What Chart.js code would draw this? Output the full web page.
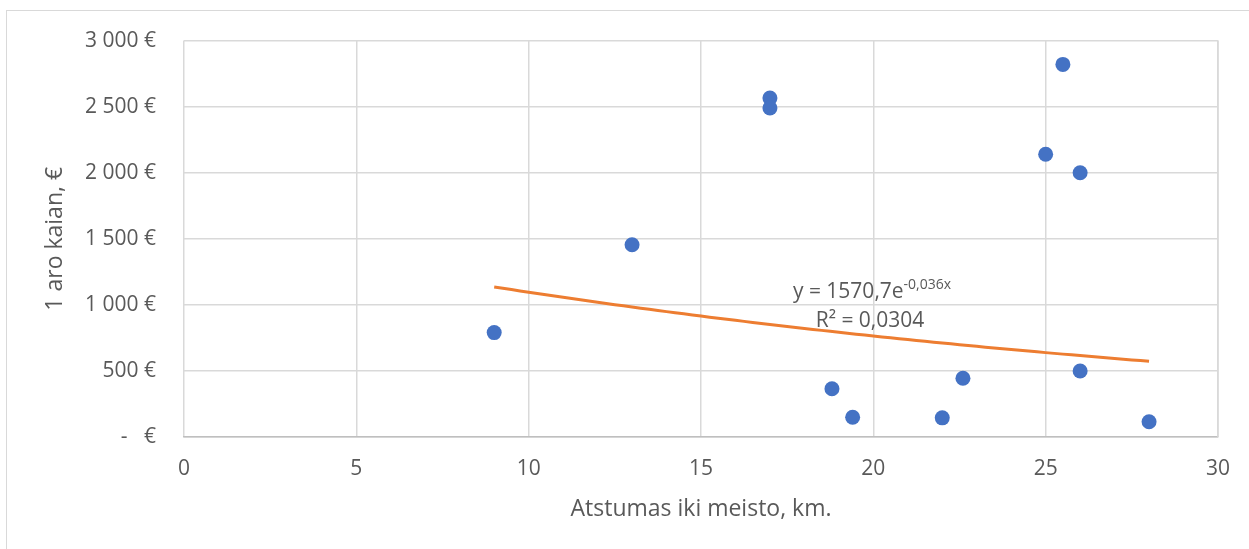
<!DOCTYPE html>
<html>
<head>
<meta charset="utf-8">
<script src="https://cdn.jsdelivr.net/npm/chart.js@4/dist/chart.umd.min.js"></script>
<style>
  html, body { margin: 0; padding: 0; background: #ffffff; overflow: hidden; }
  #frame { position: absolute; left: 6px; top: 10px; width: 1300px; height: 600px;
           border: 1px solid #d9d9d9; box-sizing: border-box; }
  #wrap { position: absolute; left: 0; top: 0; width: 1249px; height: 549px; }
</style>
</head>
<body>
<div id="frame"></div>
<div id="wrap"><canvas id="chart" width="1249" height="549"></canvas></div>
<script>
// Distance to town (km) and price of one are of land (€)
const distanceKm = [9, 13, 17, 17, 18.8, 19.4, 22, 22.6, 25, 25.5, 26, 26, 28];
const pricePerAre = [790, 1455, 2565, 2490, 365, 150, 145, 445, 2140, 2820, 2000, 500, 115];

// Axis ticks
const xTicks = [0, 5, 10, 15, 20, 25, 30];
const yTickValues = [0, 500, 1000, 1500, 2000, 2500, 3000];
const yTickLabels = ['-   €', '500 €', '1 000 €', '1 500 €', '2 000 €', '2 500 €', '3 000 €'];

// Exponential trendline y = a·e^(b·x) and its fit statistic
const trendA = 1570.7;
const trendB = -0.036;
const trendR2 = '0,0304';
const trendFrom = 9;
const trendTo = 28;

const trendPoints = [];
for (let i = 0; i <= 76; i++) {
  const x = trendFrom + (trendTo - trendFrom) * i / 76;
  trendPoints.push({ x: x, y: trendA * Math.exp(trendB * x) });
}

const scatterPoints = distanceKm.map((x, i) => ({ x: x, y: pricePerAre[i] }));

const FONT = '"Open Sans", "Liberation Sans", sans-serif';
const TEXT = '#595959';

const equationLabel = {
  id: 'equationLabel',
  afterDatasetsDraw(chart) {
    const ctx = chart.ctx;
    ctx.save();
    ctx.fillStyle = TEXT;
    ctx.textBaseline = 'alphabetic';
    const main = 'y = 1570,7e';
    const sup = '-0,036x';
    ctx.font = '21px ' + FONT;
    const wMain = ctx.measureText(main).width;
    ctx.font = '14px ' + FONT;
    const wSup = ctx.measureText(sup).width;
    const cx = 872;
    const x0 = cx - (wMain + wSup) / 2;
    ctx.font = '21px ' + FONT;
    ctx.textAlign = 'left';
    ctx.fillText(main, x0, 298);
    ctx.font = '14px ' + FONT;
    ctx.fillText(sup, x0 + wMain, 289);
    ctx.font = '21px ' + FONT;
    ctx.textAlign = 'center';
    ctx.fillText('R² = ' + trendR2, 870, 327);
    ctx.restore();
  }
};

new Chart(document.getElementById('chart'), {
  type: 'scatter',
  data: {
    datasets: [
      {
        label: 'Trendline',
        data: trendPoints,
        showLine: true,
        borderColor: '#ED7D31',
        borderWidth: 3,
        pointRadius: 0,
        tension: 0,
        order: 1
      },
      {
        label: '1 aro kaina',
        data: scatterPoints,
        backgroundColor: '#4472C4',
        borderWidth: 0,
        pointRadius: 7.5,
        order: 0
      }
    ]
  },
  options: {
    responsive: false,
    animation: false,
    devicePixelRatio: 1,
    layout: { padding: { top: 40, right: 31, left: 0, bottom: 0 } },
    plugins: { legend: { display: false }, tooltip: { enabled: false } },
    scales: {
      x: {
        type: 'linear',
        min: 0, max: 30,
        afterBuildTicks(scale) { scale.ticks = xTicks.map(v => ({ value: v })); },
        afterFit(scale) { scale.height = 112; },
        grid: { color: '#d9d9d9', lineWidth: 1.5, drawTicks: false },
        border: { display: true, color: '#bfbfbf', width: 1.5 },
        ticks: { color: TEXT, font: { family: FONT, size: 21 }, padding: 19, maxRotation: 0 },
        title: { display: true, text: 'Atstumas iki meisto, km.', color: TEXT,
                 font: { family: FONT, size: 23 }, padding: { top: 0, bottom: 26 } }
      },
      y: {
        type: 'linear',
        min: 0, max: 3000,
        afterBuildTicks(scale) { scale.ticks = yTickValues.map(v => ({ value: v })); },
        afterFit(scale) { scale.width = 184; },
        grid: { color: '#d9d9d9', lineWidth: 1.5, drawTicks: false },
        border: { display: false },
        ticks: {
          color: TEXT, font: { family: FONT, size: 21 }, padding: 28,
          callback(value) { return yTickLabels[yTickValues.indexOf(value)]; }
        },
        title: { display: true, text: '1 aro kaian, €', color: TEXT,
                 font: { family: FONT, size: 23 }, padding: { top: 42, bottom: 0 } }
      }
    }
  },
  plugins: [equationLabel, {
    id: 'plotFrame',
    beforeDatasetsDraw(chart) {
      const { ctx, chartArea: a } = chart;
      ctx.save();
      ctx.strokeStyle = '#d9d9d9';
      ctx.lineWidth = 1.5;
      ctx.beginPath();
      ctx.moveTo(a.right, a.top);
      ctx.lineTo(a.right, a.bottom);
      ctx.stroke();
      ctx.restore();
    }
  }]
});
</script>
</body>
</html>
